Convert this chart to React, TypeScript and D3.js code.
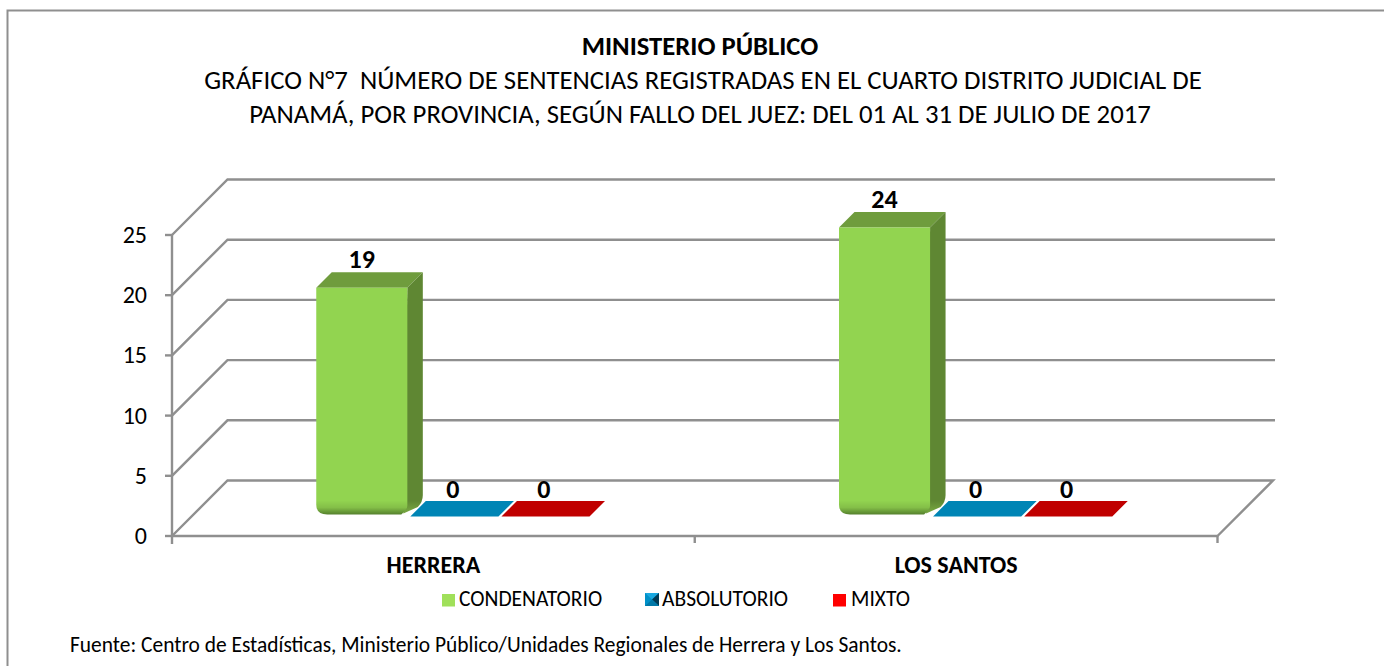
import React from 'react';
import * as d3 from 'd3';

const categories = ['HERRERA', 'LOS SANTOS'];
const seriesNames = ['CONDENATORIO', 'ABSOLUTORIO', 'MIXTO'];
const condenatorio = [19, 24];
const absolutorio = [0, 0];
const mixto = [0, 0];
const seriesValues = [condenatorio, absolutorio, mixto];
const yTicks = [0, 5, 10, 15, 20, 25];

const FONT = 'Carlito, Calibri, Lato, "Open Sans", sans-serif';
const GRID = '#8f8f8f';

const plotLeft = 172;
const plotRight = 1217.5;
const plotBottom = 536;
const plotTop = 235;
const depth = 55.5;      // floor depth of the 3D box
const barOffset = 19.5;  // bars stand this far back from the front edge
const barDepth = 15.5;

const x0 = d3.scaleBand<string>().domain(categories).range([plotLeft, plotRight]);
const x1 = d3.scaleBand<string>()
  .domain(seriesNames)
  .range([124.75, x0.bandwidth() - 124.75]);
const y = d3.scaleLinear().domain([0, 25]).range([plotBottom, plotTop]);

const bar = [
  { front: 'url(#greenFront)', top: '#6f9c3d', side: '#5f8733' },
  { front: '#0085b5', top: '#0085b5', side: '#0085b5' },
  { front: '#c00000', top: '#c00000', side: '#c00000' },
];

const poly = (pts: number[][]) => d3.line()(pts as [number, number][]) + 'Z';

const legendX = [442, 645, 833];
const legendTextX = [459, 662, 851];
const barBase = y(0) - barOffset;

export default function App() {
  return (
    <svg width={1384} height={666} style={{ position: 'absolute', left: 0, top: 0, background: '#fff' }} fontFamily={FONT}>
      <defs>
        <linearGradient id="greenFront" gradientUnits="userSpaceOnUse" x1="0" y1={barBase - 16} x2="0" y2={barBase - 2}>
          <stop offset="0" stopColor="#92d450" />
          <stop offset="0.5" stopColor="#84bf48" />
          <stop offset="1" stopColor="#55802d" />
        </linearGradient>
        <linearGradient id="greenSide" gradientUnits="userSpaceOnUse" x1="0" y1={barBase - 30} x2="0" y2={barBase - 6}>
          <stop offset="0" stopColor="#5f8733" />
          <stop offset="0.6" stopColor="#5f8733" />
          <stop offset="1" stopColor="#74a33f" />
        </linearGradient>
      </defs>

      <path d="M1384,10.5H7.5V666" fill="none" stroke="#8f8f8f" strokeWidth={2} />

      <text x={700} y={55} textAnchor="middle" fontSize={26.67} fontWeight={700}>MINISTERIO PÚBLICO</text>
      <text x={703} y={88.5} textAnchor="middle" fontSize={26.76} xmlSpace="preserve">GRÁFICO N°7  NÚMERO DE SENTENCIAS REGISTRADAS EN EL CUARTO DISTRITO JUDICIAL DE</text>
      <text x={700} y={122.5} textAnchor="middle" fontSize={26.76}>PANAMÁ, POR PROVINCIA, SEGÚN FALLO DEL JUEZ: DEL 01 AL 31 DE JULIO DE 2017</text>

      {/* back wall and side wall grid */}
      <g fill="none" stroke={GRID} strokeWidth={2.4}>
        {yTicks.map(t => (
          <path key={t} d={t === 0
            ? `M${plotLeft},${y(0)}L${plotLeft + depth},${y(0) - depth}H${plotRight + depth}L${plotRight},${y(0)}`
            : `M${plotLeft},${y(t)}L${plotLeft + depth},${y(t) - depth}H${plotRight + depth + 2}`} />
        ))}
        <path d={`M${plotLeft},${y(0)}H${plotRight}`} />
        <path d={`M${plotLeft},${y(25)}V${y(0) + 8}`} />
        {yTicks.map(t => <path key={t} d={`M${plotLeft - 7},${y(t)}H${plotLeft}`} />)}
        {[plotLeft + x0.bandwidth(), plotRight].map(v => <path key={v} d={`M${v},${y(0)}V${y(0) + 7}`} />)}
      </g>

      {yTicks.map(t => (
        <text key={t} x={147} y={y(t) + 8} textAnchor="end" fontSize={24}>{t}</text>
      ))}

      {categories.map((c) => (
        <g key={c}>
          {seriesNames.map((s, si) => {
            const v = seriesValues[si][categories.indexOf(c)];
            const left = x0(c)! + x1(s)! + barOffset;
            const w = x1.bandwidth();
            const right = left + w;
            const base = barBase;
            const top = base - (y(0) - y(v));
            const style = bar[si];
            if (v === 0) {
              return (
                <g key={s}>
                  <path d={poly([[left + 3, base], [right, base], [right + barDepth, base - barDepth], [left + barDepth + 3, base - barDepth]])} fill={style.front} />
                  <text x={left + w / 2} y={base - 19} textAnchor="middle" fontSize={26} fontWeight={700}>{v}</text>
                </g>
              );
            }
            return (
              <g key={s}>
                <path d={poly([[left, top], [left + barDepth, top - barDepth], [right + barDepth, top - barDepth], [right, top]])} fill={style.top} />
                <path d={`M${right},${top}L${right + barDepth},${top - barDepth}V${base - barDepth - 6}Q${right + barDepth},${base - barDepth + 1} ${right + barDepth - 5},${base - barDepth + 6}L${right - 4},${base - 3}Z`} fill="url(#greenSide)" />
                <path d={`M${left},${top}H${right}V${base - 11}Q${right},${base - 7} ${right - 6},${base - 2}H${left + 11}Q${left},${base - 2} ${left},${base - 12}Z`} fill={style.front} />
                <text x={left + w / 2} y={top - 19.5} textAnchor="middle" fontSize={26} fontWeight={700}>{v}</text>
              </g>
            );
          })}
          <text x={x0(c)! + x0.bandwidth() / 2} y={573} textAnchor="middle" fontSize={24} fontWeight={700}>{c}</text>
        </g>
      ))}

      {seriesNames.map((s, i) => (
        <g key={s}>
          {i === 1 ? (
            <g>
              <rect x={legendX[i]} y={593} width={14} height={13} fill="#0090c8" />
              <path d={poly([[legendX[i], 593], [legendX[i] + 14, 593], [legendX[i] + 7, 599.5]])} fill="#19a8e0" />
              <path d={poly([[legendX[i] + 14, 593], [legendX[i] + 14, 606], [legendX[i] + 7, 599.5]])} fill="#003a55" />
              <path d={poly([[legendX[i], 606], [legendX[i] + 14, 606], [legendX[i] + 7, 599.5]])} fill="#0078a8" />
            </g>
          ) : (
            <rect x={legendX[i]} y={594} width={13} height={12.5} fill={i === 0 ? '#a0e05a' : '#ff0000'} />
          )}
          <text x={legendTextX[i]} y={606} fontSize={21.5}>{s}</text>
        </g>
      ))}

      <text x={70} y={652} fontSize={21.44}>Fuente: Centro de Estadísticas, Ministerio Público/Unidades Regionales de Herrera y Los Santos.</text>
    </svg>
  );
}
